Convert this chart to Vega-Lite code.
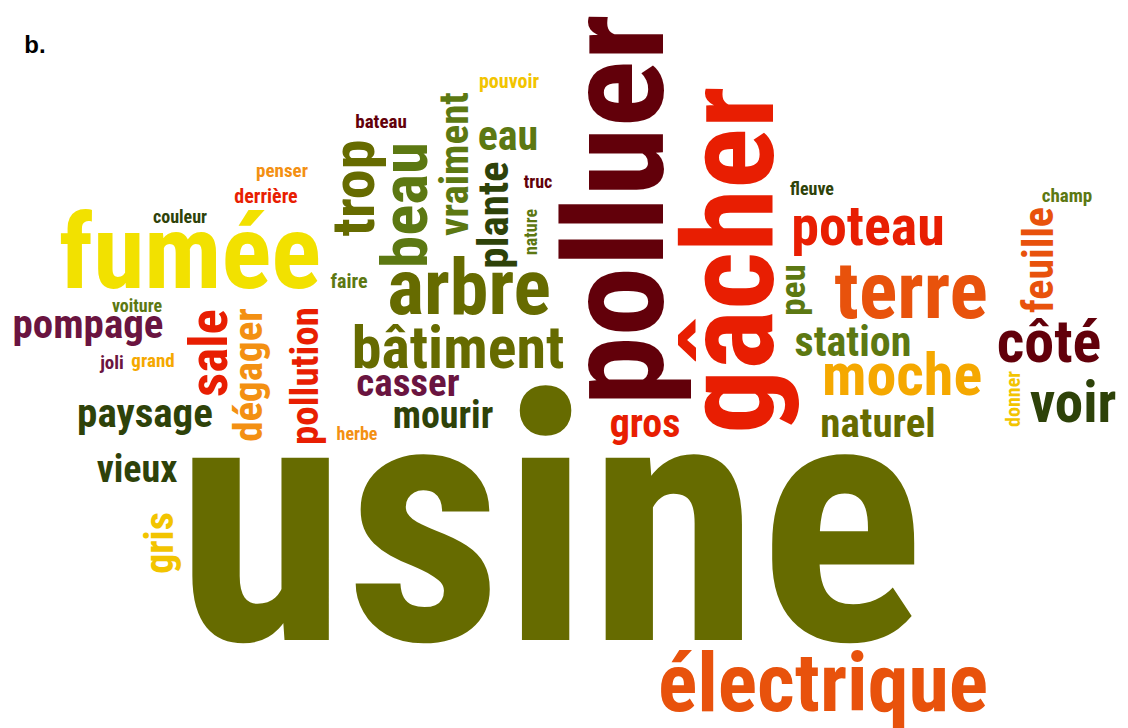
{
  "$schema": "https://vega.github.io/schema/vega-lite/v6.json",
  "width": 1128,
  "height": 728,
  "autosize": {"type": "fit", "contains": "padding"},
  "padding": 0,
  "background": "white",
  "config": {"view": {"stroke": null}},
  "datasets": {
    "words": [
      {"word": "usine", "x": 550, "y": 640, "weight": 345, "tone": "olive", "orient": "h"},
      {"word": "électrique", "x": 823, "y": 711, "weight": 82, "tone": "vermilion", "orient": "h"},
      {"word": "fumée", "x": 190, "y": 288, "weight": 104, "tone": "yellow", "orient": "h"},
      {"word": "arbre", "x": 469, "y": 314, "weight": 78, "tone": "olive", "orient": "h"},
      {"word": "bâtiment", "x": 458, "y": 368, "weight": 60, "tone": "olive", "orient": "h"},
      {"word": "casser", "x": 408, "y": 396, "weight": 39, "tone": "plum", "orient": "h"},
      {"word": "mourir", "x": 443, "y": 428, "weight": 38, "tone": "forest", "orient": "h"},
      {"word": "herbe", "x": 357, "y": 440, "weight": 18, "tone": "orange", "orient": "h"},
      {"word": "faire", "x": 349, "y": 288, "weight": 20, "tone": "leaf", "orient": "h"},
      {"word": "paysage", "x": 145, "y": 427, "weight": 41, "tone": "forest", "orient": "h"},
      {"word": "vieux", "x": 137, "y": 482, "weight": 38, "tone": "forest", "orient": "h"},
      {"word": "pompage", "x": 88, "y": 338, "weight": 41, "tone": "plum", "orient": "h"},
      {"word": "voiture", "x": 137, "y": 312, "weight": 18, "tone": "leaf", "orient": "h"},
      {"word": "joli", "x": 112, "y": 369, "weight": 19, "tone": "plum", "orient": "h"},
      {"word": "grand", "x": 153, "y": 367, "weight": 19, "tone": "amber", "orient": "h"},
      {"word": "couleur", "x": 180, "y": 223, "weight": 18, "tone": "forest", "orient": "h"},
      {"word": "derrière", "x": 266, "y": 203, "weight": 20, "tone": "red", "orient": "h"},
      {"word": "penser", "x": 282, "y": 177, "weight": 19, "tone": "orange", "orient": "h"},
      {"word": "bateau", "x": 381, "y": 128, "weight": 19, "tone": "maroon", "orient": "h"},
      {"word": "pouvoir", "x": 509, "y": 88, "weight": 20, "tone": "gold", "orient": "h"},
      {"word": "eau", "x": 508, "y": 150, "weight": 42, "tone": "leaf", "orient": "h"},
      {"word": "truc", "x": 538, "y": 188, "weight": 18, "tone": "maroon", "orient": "h"},
      {"word": "gros", "x": 645, "y": 437, "weight": 40, "tone": "red", "orient": "h"},
      {"word": "fleuve", "x": 812, "y": 195, "weight": 18, "tone": "forest", "orient": "h"},
      {"word": "champ", "x": 1067, "y": 202, "weight": 19, "tone": "leaf", "orient": "h"},
      {"word": "poteau", "x": 868, "y": 245, "weight": 56, "tone": "red", "orient": "h"},
      {"word": "terre", "x": 911, "y": 318, "weight": 80, "tone": "vermilion", "orient": "h"},
      {"word": "station", "x": 853, "y": 356, "weight": 42, "tone": "leaf", "orient": "h"},
      {"word": "moche", "x": 902, "y": 395, "weight": 60, "tone": "amber", "orient": "h"},
      {"word": "naturel", "x": 878, "y": 437, "weight": 41, "tone": "olive", "orient": "h"},
      {"word": "côté", "x": 1049, "y": 362, "weight": 60, "tone": "maroon", "orient": "h"},
      {"word": "voir", "x": 1073, "y": 422, "weight": 57, "tone": "forest", "orient": "h"},
      {"word": "polluer", "x": 663, "y": 210, "weight": 140, "tone": "maroon", "orient": "v"},
      {"word": "gâcher", "x": 773, "y": 260, "weight": 127, "tone": "red", "orient": "v"},
      {"word": "trop", "x": 374, "y": 188, "weight": 60, "tone": "olive", "orient": "v"},
      {"word": "beau", "x": 427, "y": 205, "weight": 65, "tone": "leaf", "orient": "v"},
      {"word": "vraiment", "x": 468, "y": 164, "weight": 41, "tone": "leaf", "orient": "v"},
      {"word": "plante", "x": 508, "y": 215, "weight": 43, "tone": "forest", "orient": "v"},
      {"word": "nature", "x": 537, "y": 232, "weight": 18, "tone": "leaf", "orient": "v"},
      {"word": "sale", "x": 227, "y": 353, "weight": 53, "tone": "red", "orient": "v"},
      {"word": "dégager", "x": 262, "y": 375, "weight": 41, "tone": "orange", "orient": "v"},
      {"word": "pollution", "x": 318, "y": 376, "weight": 39, "tone": "red", "orient": "v"},
      {"word": "gris", "x": 173, "y": 543, "weight": 40, "tone": "gold", "orient": "v"},
      {"word": "peu", "x": 805, "y": 290, "weight": 35, "tone": "leaf", "orient": "v"},
      {"word": "feuille", "x": 1053, "y": 260, "weight": 42, "tone": "vermilion", "orient": "v"},
      {"word": "donner", "x": 1020, "y": 399, "weight": 20, "tone": "gold", "orient": "v"}
    ],
    "label": [
      {"word": "b.", "x": 35, "y": 53}
    ]
  },
  "layer": [
    {
      "data": {"name": "words"},
      "transform": [{"filter": "datum.orient === 'h'"}],
      "mark": {"type": "text", "align": "center", "baseline": "alphabetic", "font": "Roboto Condensed, Liberation Sans Narrow, DejaVu Sans Condensed, sans-serif", "fontWeight": "bold"},
      "encoding": {
        "x": {"field": "x", "type": "quantitative", "scale": {"domain": [0, 1128], "nice": false, "zero": false}, "axis": null},
        "y": {"field": "y", "type": "quantitative", "scale": {"domain": [0, 728], "nice": false, "zero": false, "reverse": true}, "axis": null},
        "size": {"field": "weight", "type": "quantitative", "scale": {"domain": [0, 350], "range": [0, 350]}, "legend": null},
        "color": {"field": "tone", "type": "nominal", "scale": {"domain": ["olive", "leaf", "forest", "maroon", "plum", "red", "vermilion", "orange", "amber", "gold", "yellow"], "range": ["#666b00", "#5c7812", "#2e4209", "#62000a", "#6a1440", "#e81e02", "#e8520c", "#f39012", "#f5a800", "#f2c400", "#f2e100"]}, "legend": null},
        "text": {"field": "word", "type": "nominal"}
      }
    },
    {
      "data": {"name": "words"},
      "transform": [{"filter": "datum.orient === 'v'"}],
      "mark": {"type": "text", "align": "center", "baseline": "alphabetic", "angle": 270, "font": "Roboto Condensed, Liberation Sans Narrow, DejaVu Sans Condensed, sans-serif", "fontWeight": "bold"},
      "encoding": {
        "x": {"field": "x", "type": "quantitative", "axis": null},
        "y": {"field": "y", "type": "quantitative", "axis": null},
        "size": {"field": "weight", "type": "quantitative", "legend": null},
        "color": {"field": "tone", "type": "nominal", "legend": null},
        "text": {"field": "word", "type": "nominal"}
      }
    },
    {
      "data": {"name": "label"},
      "mark": {"type": "text", "align": "center", "baseline": "alphabetic", "font": "Liberation Sans, Arial, sans-serif", "fontWeight": "bold", "fontSize": 24, "color": "black"},
      "encoding": {
        "x": {"field": "x", "type": "quantitative", "axis": null},
        "y": {"field": "y", "type": "quantitative", "axis": null},
        "text": {"field": "word", "type": "nominal"}
      }
    }
  ]
}
